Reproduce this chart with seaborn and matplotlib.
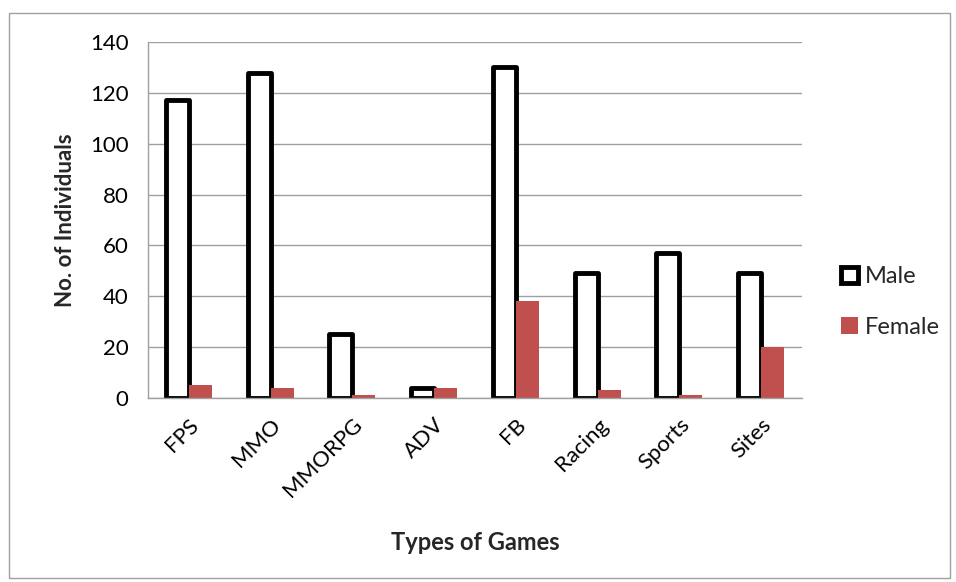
import matplotlib
matplotlib.use("Agg")
import matplotlib.pyplot as plt
import seaborn as sns
import pandas as pd
import numpy as np
from matplotlib.patches import Patch, Rectangle

categories = ["FPS", "MMO", "MMORPG", "ADV", "FB", "Racing", "Sports", "Sites"]
male = [117, 128, 25, 4, 130, 49, 57, 49]
female = [5, 4, 1, 4, 38, 3, 1, 20]
series = ["Male", "Female"]

sns.set_theme(style="white")
plt.rcParams['font.family'] = ['Lato', 'DejaVu Sans']

df = pd.DataFrame({
    "Game": categories * 2,
    "Count": male + female,
    "Sex": ["Male"] * len(categories) + ["Female"] * len(categories),
})

fig = plt.figure(figsize=(9.56, 5.82), dpi=100)
ax = fig.add_axes([148/956, 1-398/582, (802-148)/956, (398-42)/582])

red = "#C0504D"
sns.barplot(data=df, x="Game", y="Count", hue="Sex", order=categories,
            hue_order=series, palette={"Male": "white", "Female": red},
            width=0.56, gap=0, ax=ax, legend=False, saturation=1)

for p in ax.patches[:len(categories)]:
    p.set_edgecolor("black")
    p.set_linewidth(3.5)
    p.set_joinstyle("round")
for p in ax.patches[len(categories):]:
    p.set_edgecolor("none")

ax.set_ylim(0, 140)
ax.set_xlim(-0.5, len(categories) - 0.5)
ax.set_yticks(range(0, 141, 20))
ax.yaxis.grid(True, color="#a0a0a0", linewidth=1)
ax.set_axisbelow(True)
for s in ["top", "right"]:
    ax.spines[s].set_visible(False)
for s in ["left", "bottom"]:
    ax.spines[s].set_color("#a0a0a0")
    ax.spines[s].set_linewidth(1)

ax.set_xticks(range(len(categories)))
ax.set_xticklabels(categories, rotation=45, ha="right", rotation_mode="anchor", fontsize=16)
ax.set_xticks(np.arange(-0.5, len(categories)), minor=True)
ax.tick_params(axis="x", which="major", length=0, pad=12)
ax.tick_params(axis="x", which="minor", length=6, color="#a0a0a0", width=1, direction="out")
ax.tick_params(axis="y", length=6, width=1, direction="out", labelsize=16, pad=8)
ax.tick_params(axis="both", labelcolor="black", which="major")
ax.tick_params(axis="y", color="#a0a0a0")

ax.set_ylabel("No. of Individuals", fontsize=16, fontweight="bold", labelpad=10)
ax.set_xlabel("Types of Games", fontsize=17, fontweight="bold")
ax.xaxis.set_label_coords(0.5, 1 - (543 - 42) / 356)
ax.xaxis.label.set_verticalalignment("center")

handles = [Patch(facecolor="white", edgecolor="black", linewidth=3.5, label="Male"),
           Patch(facecolor=red, edgecolor="none", label="Female")]
fig.legend(handles=handles, loc="center left", bbox_to_anchor=(820/956, 1 - 302/582),
           frameon=False, fontsize=17, handlelength=0.7, handleheight=0.7,
           handletextpad=0.3, labelspacing=1.25)

fig.add_artist(Rectangle((9/956, 1 - 578/582), (950-9)/956, (578-13)/582,
                         transform=fig.transFigure, fill=False,
                         edgecolor="#a0a0a0", linewidth=1))

fig.savefig("out.png", dpi=100)
